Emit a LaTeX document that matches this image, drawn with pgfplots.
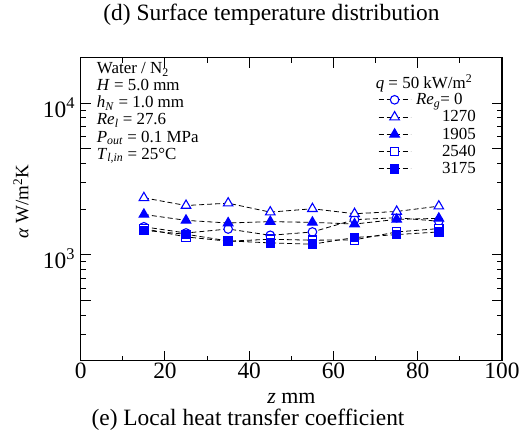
\documentclass[border=0pt]{standalone}
\usepackage{fontspec}
\setmainfont{Liberation Serif}
\usepackage{pgfplots}
\pgfplotsset{compat=1.18}
\definecolor{mblue}{RGB}{0,0,255}
\begin{document}
\begin{tikzpicture}
\useasboundingbox (-80.7bp,-81.3bp) rectangle (443.3bp,360.7bp);
\begin{axis}[
  scale only axis, width=421.3bp, height=303bp,
  xmin=0, xmax=100, ymin=200, ymax=20000, ymode=log,
  axis line style={line width=1.1bp},
  tick style={line width=1bp, black},
  tick align=inside,
  major tick length=10bp, minor tick length=5bp,
  xtick={0,20,...,100}, minor xtick={10,30,...,90},
  ytick={500,1000,5000,10000},
  yticklabels={,10\textsuperscript{3},,10\textsuperscript{4}},
  minor ytick={200,300,400,600,700,800,900,2000,3000,4000,6000,7000,8000,9000},
  /pgf/number format/assume math mode=true,
  ticklabel style={font=\fontsize{23.5}{26}\selectfont},
  xticklabel style={inner sep=1bp, yshift=-1bp},
  yticklabel style={inner sep=2bp, xshift=-3.5bp, yshift=-4bp},
  legend style={draw=none, fill=none, at={(0.7057,0.886)}, anchor=north west,
    font=\fontsize{17}{19}\selectfont, inner sep=0pt, row sep=2.5bp, column sep=4bp,
    nodes={inner sep=1pt}},
  legend cell align=left,
  legend image code/.code={\draw[#1, mark repeat=2, mark phase=2] plot coordinates {(0bp,0bp) (16bp,0bp) (32bp,0bp)};},
  every axis plot/.append style={black, dash pattern=on 5bp off 3bp, line width=0.8bp},
]
\addplot[mark=*, mark size=4.3bp, mark options={solid, draw=mblue, fill=white, line width=1.1bp}]
  coordinates {(15,1530) (25,1393) (35,1480) (45,1345) (55,1415) (65,1706) (75,1757) (85,1665)};
\addlegendentry{\textit{Re}\textsubscript{\textit{g}}= 0}
\addplot[mark=triangle*, mark size=5.5bp, mark options={solid, draw=mblue, fill=white, line width=1.1bp}]
  coordinates {(15,2377) (25,2115) (35,2191) (45,1913) (55,2013) (65,1867) (75,1932) (85,2094)};
\addlegendentry{\hspace{26bp}1270}
\addplot[mark=triangle*, mark size=5.5bp, mark options={solid, draw=mblue, fill=mblue, line width=1.1bp}]
  coordinates {(15,1847) (25,1688) (35,1621) (45,1655) (55,1637) (65,1596) (75,1713) (85,1740)};
\addlegendentry{\hspace{26bp}1905}
\addplot[mark=square*, mark size=4.2bp, mark options={solid, draw=mblue, fill=white, line width=1.1bp}]
  coordinates {(15,1489) (25,1312) (35,1229) (45,1267) (55,1248) (65,1255) (75,1415) (85,1489)};
\addlegendentry{\hspace{26bp}2540}
\addplot[mark=square*, mark size=4.2bp, mark options={solid, draw=mblue, fill=mblue, line width=1.1bp}]
  coordinates {(15,1450) (25,1366) (35,1235) (45,1198) (55,1175) (65,1300) (75,1360) (85,1415)};
\addlegendentry{\hspace{26bp}3175}
\end{axis}
\node[font=\fontsize{23.5}{26}\selectfont] at (190.8bp,345.7bp) {(d) Surface temperature distribution};
\node[font=\fontsize{23.5}{26}\selectfont] at (167.3bp,-59.3bp) {(e) Local heat transfer coefficient};
\node[font=\fontsize{22}{26}\selectfont] at (210.6bp,-37.3bp) {\textit{z} mm};
\node[font=\fontsize{19}{22}\selectfont, rotate=90] at (-59.7bp,159bp) {\textit{α} W/m\textsuperscript{2}K};
\node[font=\fontsize{17}{17.2}\selectfont, anchor=north west, align=left, inner sep=0pt] at (16bp,298.5bp)
  {Water / N\textsubscript{2}\\
   \textit{H} = 5.0 mm\\
   \textit{h}\textsubscript{\textit{N}} = 1.0 mm\\
   \textit{Re}\textsubscript{\textit{l}} = 27.6\\
   \textit{P}\textsubscript{\textit{out}} = 0.1 MPa\\
   \textit{T}\textsubscript{\textit{l,in}} = 25°C};
\node[font=\fontsize{17}{19}\selectfont, inner sep=0pt] at (343.3bp,277.5bp) {\textit{q} = 50 kW/m\textsuperscript{2}};
\end{tikzpicture}
\end{document}
